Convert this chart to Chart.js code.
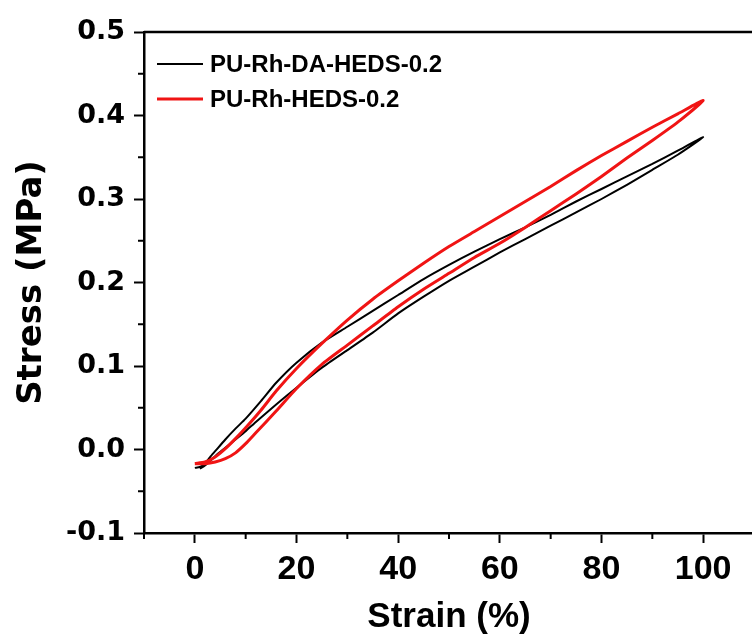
<!DOCTYPE html>
<html>
<head>
<meta charset="utf-8">
<script src="https://cdn.jsdelivr.net/npm/chart.js@4.4.1/dist/chart.umd.min.js"></script>
<style>
  html, body { margin: 0; padding: 0; background: #fff; overflow: hidden; }
  #wrap { width: 760px; height: 635px; }
</style>
</head>
<body>
<div id="wrap"><canvas id="grafico" width="760" height="635"></canvas></div>
<script>
// Datos (lazo de carga y descarga)
const serieNombres = ['PU-Rh-DA-HEDS-0.2', 'PU-Rh-HEDS-0.2'];

const negroX = [0, 1, 2, 3, 4, 6, 8, 10, 13, 16, 20, 25, 30, 35, 40, 45, 50, 55, 60, 65, 70, 75, 80, 85, 90, 95, 100,
                95, 90, 85, 80, 75, 70, 65, 60, 55, 50, 45, 40, 35, 30, 25, 20, 16, 12, 10, 8, 6, 4, 3, 2, 1];
const negroY = [-0.022, -0.021, -0.017, -0.009, -0.002, 0.012, 0.025, 0.037, 0.058, 0.080, 0.104, 0.128, 0.147, 0.166, 0.185, 0.204, 0.221, 0.237, 0.252, 0.266, 0.281, 0.297, 0.312, 0.327, 0.342, 0.358, 0.374,
                0.353, 0.335, 0.317, 0.300, 0.284, 0.268, 0.252, 0.236, 0.219, 0.202, 0.183, 0.163, 0.140, 0.119, 0.098, 0.074, 0.054, 0.033, 0.022, 0.012, 0.002, -0.008, -0.014, -0.019, -0.023];

const rojoX = [0, 2, 4, 6, 8, 10, 13, 16, 20, 25, 30, 35, 40, 45, 50, 55, 60, 65, 70, 75, 80, 85, 90, 95, 100,
               95, 90, 85, 80, 75, 70, 65, 60, 55, 50, 45, 40, 35, 30, 25, 20, 16, 12, 10, 8, 6, 4, 2, 0];
const rojoY = [-0.017, -0.015, -0.009, 0.001, 0.013, 0.026, 0.047, 0.070, 0.097, 0.127, 0.155, 0.180, 0.202, 0.223, 0.243, 0.261, 0.279, 0.297, 0.315, 0.334, 0.352, 0.369, 0.386, 0.402, 0.418,
               0.392, 0.370, 0.349, 0.327, 0.306, 0.286, 0.266, 0.247, 0.230, 0.211, 0.192, 0.171, 0.148, 0.125, 0.102, 0.073, 0.046, 0.020, 0.007, -0.004, -0.011, -0.015, -0.017, -0.017];

const xEtiquetas = [0, 20, 40, 60, 80, 100];
const yEtiquetas = [-0.1, 0.0, 0.1, 0.2, 0.3, 0.4, 0.5];

const aPuntos = (xs, ys) => xs.map((x, i) => ({ x: x, y: ys[i] }));
const esEtiqueta = (lista, v) => lista.some(e => Math.abs(e - v) < 1e-6);

// Ticks menores, borde superior y leyenda
const extras = {
    id: 'extras',
    afterDraw(chart) {
        const ctx = chart.ctx;
        const a = chart.chartArea;
        const sx = chart.scales.x, sy = chart.scales.y;
        ctx.save();
        ctx.strokeStyle = '#000';
        ctx.lineWidth = 2;
        sx.ticks.forEach(t => {
            if (t.label !== '') return;
            const px = sx.getPixelForValue(t.value);
            ctx.beginPath(); ctx.moveTo(px, a.bottom); ctx.lineTo(px, a.bottom + 6); ctx.stroke();
        });
        sy.ticks.forEach(t => {
            if (t.label !== '') return;
            const py = sy.getPixelForValue(t.value);
            ctx.beginPath(); ctx.moveTo(a.left, py); ctx.lineTo(a.left - 6, py); ctx.stroke();
        });
        ctx.lineWidth = 2.5;
        ctx.beginPath(); ctx.moveTo(a.left, a.top); ctx.lineTo(a.right, a.top); ctx.lineTo(a.right, a.bottom); ctx.stroke();

        // leyenda
        ctx.font = 'bold 24px "Liberation Sans", Arial, sans-serif';
        ctx.textBaseline = 'middle';
        ctx.fillStyle = '#000';
        const filas = [a.top + 32, a.top + 67];
        [0, 1].forEach(i => {
            const ds = chart.data.datasets.find(d => d.label === serieNombres[i]);
            ctx.strokeStyle = ds.borderColor;
            ctx.lineWidth = ds.borderWidth;
            ctx.beginPath(); ctx.moveTo(a.left + 13, filas[i]); ctx.lineTo(a.left + 59, filas[i]); ctx.stroke();
            ctx.fillText(ds.label, a.left + 66, filas[i] + 1);
        });
        ctx.restore();
    }
};

new Chart(document.getElementById('grafico').getContext('2d'), {
    type: 'scatter',
    data: {
        datasets: [{
            label: serieNombres[0],
            data: aPuntos(negroX, negroY),
            showLine: true,
            borderColor: '#000000',
            borderWidth: 2,
            pointRadius: 0,
            tension: 0.2,
            order: 2
        }, {
            label: serieNombres[1],
            data: aPuntos(rojoX, rojoY),
            showLine: true,
            borderColor: '#f01414',
            borderWidth: 3,
            pointRadius: 0,
            tension: 0.2,
            order: 1
        }]
    },
    options: {
        responsive: false,
        animation: false,
        events: [],
        layout: { padding: { top: 32, right: 2, left: 0, bottom: 0 } },
        plugins: { legend: { display: false }, tooltip: { enabled: false } },
        scales: {
            x: {
                type: 'linear',
                min: -10, max: 110,
                afterFit: s => { s.height = 102; },
                border: { display: true, color: '#000', width: 2.5 },
                grid: {
                    drawOnChartArea: false, drawTicks: true, tickLength: 10, tickWidth: 2,
                    tickColor: c => (c.tick && c.tick.label !== '') ? '#000' : 'rgba(0,0,0,0)'
                },
                ticks: {
                    stepSize: 10,
                    autoSkip: false,
                    maxRotation: 0,
                    padding: 6,
                    color: '#000',
                    font: { family: '"Liberation Sans", Arial, sans-serif', size: 34, weight: 'bold' },
                    callback: v => esEtiqueta(xEtiquetas, v) ? String(Math.round(v)) : ''
                },
                title: {
                    display: true, text: 'Strain (%)', color: '#000', padding: 0,
                    font: { family: '"Liberation Sans", Arial, sans-serif', size: 35, weight: 'bold', lineHeight: 1 }
                }
            },
            y: {
                type: 'linear',
                min: -0.1, max: 0.5,
                afterFit: s => { s.width = 144; },
                border: { display: true, color: '#000', width: 2.5 },
                grid: {
                    drawOnChartArea: false, drawTicks: true, tickLength: 10, tickWidth: 2,
                    tickColor: c => (c.tick && c.tick.label !== '') ? '#000' : 'rgba(0,0,0,0)'
                },
                ticks: {
                    stepSize: 0.05,
                    autoSkip: false,
                    padding: 9,
                    color: '#000',
                    font: { family: '"DejaVu Sans", sans-serif', size: 27, weight: 'bold' },
                    // evitar "-0.0" por el redondeo
                    callback: v => esEtiqueta(yEtiquetas, v) ? (Math.abs(v) < 1e-9 ? '0.0' : v.toFixed(1)) : ''
                },
                title: {
                    display: true, text: 'Stress (MPa)', color: '#000', padding: { top: 15, bottom: 0 },
                    font: { family: '"DejaVu Sans", sans-serif', size: 34, weight: 'bold', lineHeight: 1 }
                }
            }
        }
    },
    plugins: [extras]
});
</script>
</body>
</html>
